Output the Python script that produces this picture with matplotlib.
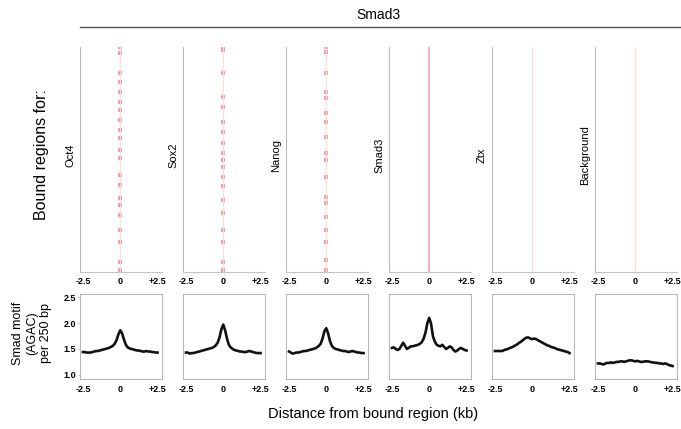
import numpy as np
import matplotlib
matplotlib.use("Agg")
import matplotlib.pyplot as plt
from matplotlib.lines import Line2D

plt.rcParams.update({'font.family': 'Liberation Sans'})

factors = ["Oct4", "Sox2", "Nanog", "Smad3", "Ztx", "Background"]
tick_pos = [-2.5, 0, 2.5]
tick_labels = ["-2.5", "0", "+2.5"]
y_ticks = [1.0, 1.5, 2.0, 2.5]
y_tick_labels = ["1.0", "1.5", "2.0", "2.5"]

# distance from bound region (kb), 0.125 kb steps
dist = np.arange(-20, 21) * 0.125

# Smad motif (AGAC) per 250 bp
oct4 = [1.44, 1.44, 1.43, 1.43, 1.43, 1.44, 1.45, 1.46, 1.46, 1.47, 1.48, 1.49, 1.50, 1.51,
        1.52, 1.54, 1.56, 1.60, 1.67, 1.78, 1.86, 1.80, 1.68, 1.58, 1.53, 1.51, 1.50, 1.49,
        1.48, 1.47, 1.47, 1.46, 1.45, 1.45, 1.46, 1.45, 1.45, 1.44, 1.44, 1.43, 1.43]
sox2 = [1.43, 1.43, 1.41, 1.42, 1.42, 1.43, 1.44, 1.45, 1.46, 1.47, 1.48, 1.49, 1.50, 1.51,
        1.52, 1.54, 1.57, 1.62, 1.72, 1.88, 1.97, 1.86, 1.70, 1.58, 1.53, 1.50, 1.48, 1.47,
        1.46, 1.45, 1.45, 1.44, 1.44, 1.45, 1.46, 1.45, 1.44, 1.43, 1.42, 1.42, 1.42]
nanog = [1.45, 1.43, 1.41, 1.42, 1.43, 1.43, 1.44, 1.45, 1.46, 1.46, 1.47, 1.48, 1.49, 1.50,
         1.51, 1.53, 1.56, 1.60, 1.70, 1.84, 1.90, 1.80, 1.65, 1.56, 1.52, 1.50, 1.49, 1.48,
         1.47, 1.46, 1.46, 1.45, 1.44, 1.45, 1.46, 1.45, 1.44, 1.43, 1.43, 1.42, 1.42]
smad3 = [1.52, 1.53, 1.50, 1.48, 1.50, 1.56, 1.62, 1.56, 1.50, 1.52, 1.55, 1.55, 1.56, 1.57,
         1.58, 1.60, 1.63, 1.70, 1.82, 2.00, 2.10, 1.98, 1.74, 1.64, 1.58, 1.56, 1.55, 1.58,
         1.54, 1.50, 1.52, 1.55, 1.53, 1.48, 1.45, 1.47, 1.50, 1.52, 1.50, 1.48, 1.47]
ztx = [1.46, 1.46, 1.46, 1.46, 1.46, 1.48, 1.49, 1.50, 1.52, 1.53, 1.55, 1.57, 1.59, 1.62,
       1.64, 1.67, 1.70, 1.72, 1.72, 1.70, 1.69, 1.70, 1.69, 1.67, 1.65, 1.63, 1.61, 1.59,
       1.57, 1.56, 1.54, 1.53, 1.52, 1.50, 1.49, 1.48, 1.47, 1.46, 1.45, 1.44, 1.42]
background = [1.22, 1.22, 1.21, 1.20, 1.22, 1.23, 1.23, 1.24, 1.23, 1.24, 1.25, 1.25, 1.26,
              1.26, 1.25, 1.26, 1.27, 1.28, 1.28, 1.27, 1.26, 1.27, 1.26, 1.25, 1.25, 1.26,
              1.26, 1.26, 1.25, 1.24, 1.24, 1.23, 1.23, 1.22, 1.22, 1.21, 1.22, 1.21, 1.19,
              1.18, 1.17]
profiles = [oct4, sox2, nanog, smad3, ztx, background]

# bound-region rows (fraction of list from top) with a Smad3 hit at the centre
oct4_hits = [0.0, 0.028, 0.117, 0.154, 0.2, 0.243, 0.28, 0.324, 0.369, 0.406, 0.458, 0.495,
             0.569, 0.613, 0.673, 0.702, 0.747, 0.813, 0.865, 0.954, 0.991]
sox2_hits = [0.0, 0.013, 0.117, 0.22, 0.265, 0.332, 0.376, 0.428, 0.473, 0.502, 0.532, 0.576,
             0.62, 0.68, 0.739, 0.813, 0.865, 0.954, 0.991]
nanog_hits = [0.0, 0.021, 0.117, 0.2, 0.228, 0.295, 0.332, 0.398, 0.473, 0.502, 0.576, 0.665,
              0.695, 0.754, 0.813, 0.865, 0.947, 0.991]
hits = [oct4_hits, sox2_hits, nanog_hits, None, [], []]

W, H = 681, 429
fig = plt.figure(figsize=(W / 100, H / 100), dpi=100)

def px_axes(left, top, width, height):
    return fig.add_axes([left / W, 1 - (top + height) / H, width / W, height / H])

spine_col = '#a8a8a8'
lefts = [80 + 103 * i for i in range(6)]
tick_font = dict(fontsize=6.5, fontweight='bold')

for i, name in enumerate(factors):
    # heatmap panel
    ax = px_axes(lefts[i], 47, 82, 225)
    ax.set_xlim(-2.7, 2.8)
    ax.set_ylim(1, 0)
    if hits[i] is None:
        ax.axvline(0, color='#f5a3ad', lw=1.2)
    else:
        ax.axvline(0, color='#fbdede', lw=0.9)
        ax.scatter(np.zeros(len(hits[i])), hits[i], s=6, marker='s', color='#f07888',
                   alpha=0.75, linewidths=0)
    for s in ['top', 'right']:
        ax.spines[s].set_visible(False)
    ax.spines['left'].set_color(spine_col)
    ax.spines['left'].set_linewidth(0.6)
    ax.spines['bottom'].set_color('#c4c4c4')
    ax.spines['bottom'].set_linewidth(0.8)
    ax.spines['bottom'].set_linestyle((0, (2, 1)))
    ax.set_yticks([])
    ax.set_xticks(tick_pos)
    ax.set_xticklabels(tick_labels, **tick_font)
    ax.tick_params(axis='x', length=0, pad=3.5)
    ax.text(-0.06, 0.52, name, transform=ax.transAxes, rotation=90, fontsize=8,
            ha='right', va='center')

    # motif profile panel
    bx = px_axes(lefts[i], 294, 82, 85)
    bx.plot(dist, profiles[i], color='#111111', lw=1.9)
    bx.set_xlim(-2.7, 2.8)
    bx.set_ylim(0.92, 2.56)
    for s in bx.spines.values():
        s.set_color(spine_col)
        s.set_linewidth(0.6)
    bx.spines['top'].set_linestyle((0, (2, 1)))
    bx.set_xticks(tick_pos)
    bx.set_xticklabels(tick_labels, **tick_font)
    bx.tick_params(axis='x', length=0, pad=4)
    if i == 0:
        bx.set_yticks(y_ticks)
        bx.set_yticklabels(y_tick_labels, **tick_font)
        bx.tick_params(axis='y', length=1.5, width=0.5, color=spine_col, pad=1.5)
    else:
        bx.set_yticks([])

fig.add_artist(Line2D([80 / W, 1.0], [1 - 27 / H, 1 - 27 / H], color='#555555', lw=1.0))
fig.text(378 / W, 1 - 15 / H, "Smad3", fontsize=10, ha='center', va='center')
fig.text(42 / W, 1 - 155 / H, "Bound regions for:", fontsize=11.5, rotation=90,
         ha='center', va='center')
fig.text(32 / W, 1 - 333 / H, "Smad motif\n(AGAC)\nper 250 bp", fontsize=9,
         rotation=90, ha='center', va='center', linespacing=1.25)
fig.text(373 / W, 1 - 414 / H, "Distance from bound region (kb)", fontsize=10.5,
         ha='center', va='center')

fig.savefig("out.png", dpi=100)
